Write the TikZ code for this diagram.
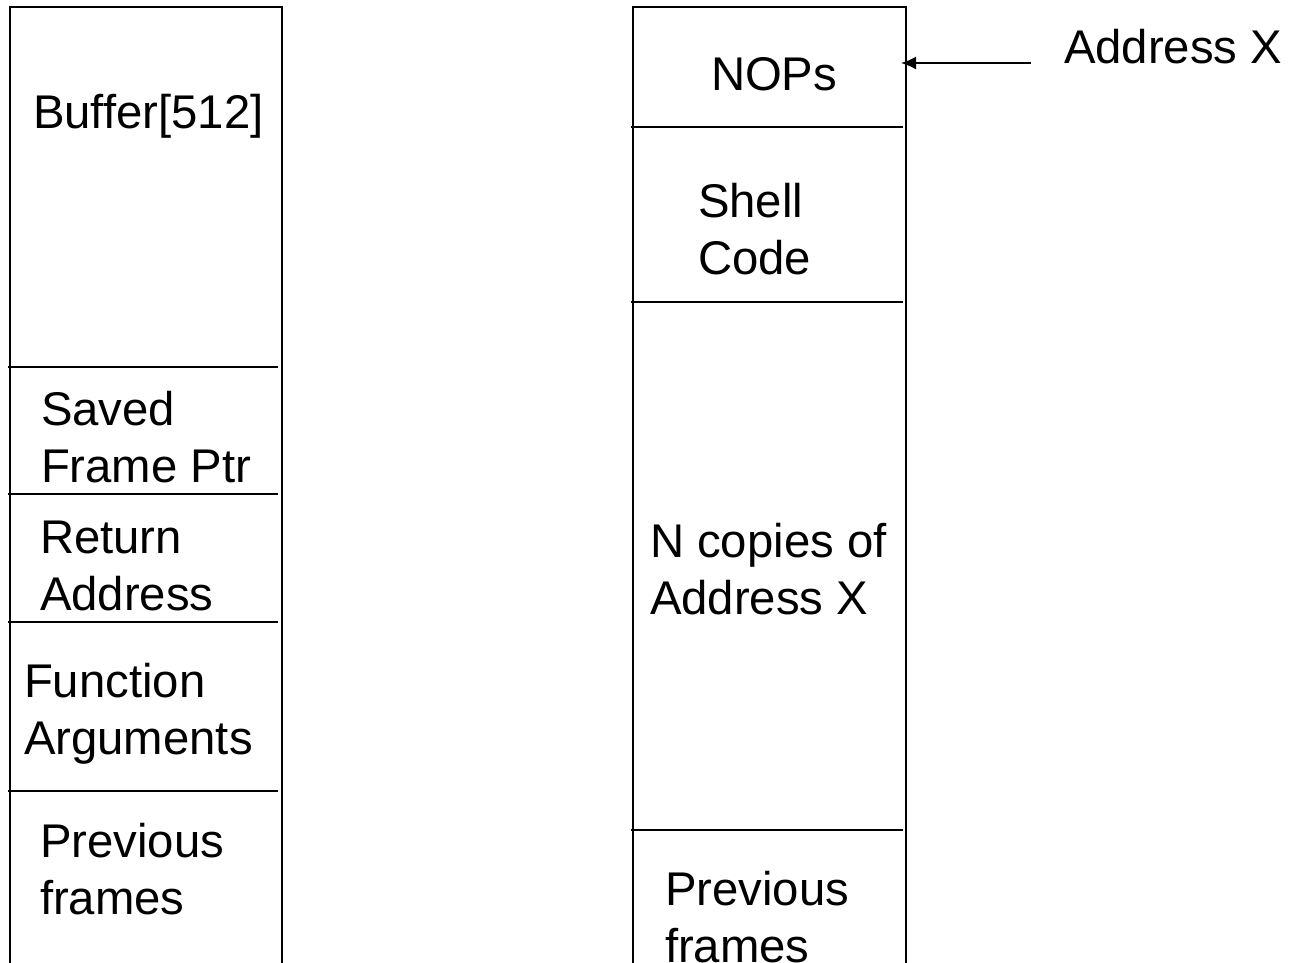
\documentclass[tikz,border=0pt]{standalone}
\usepackage{fontspec}
\setmainfont{Liberation Sans}
\usetikzlibrary{arrows.meta}
\tikzset{
  frame/.style={line width=1.8bp, black},
  divider/.style={line width=1.8bp, black},
  lbl/.style={anchor=base west, inner sep=0pt, outer sep=0pt, font=\fontsize{47.3bp}{57bp}\selectfont},
  ptr/.style={line width=1.8bp, -{Latex[length=15bp,width=13bp]}}
}
\newcommand{\lines}[1]{\begin{tabular}[t]{@{}l@{}}#1\end{tabular}}
\begin{document}
\begin{tikzpicture}[x=1bp,y=-1bp]
\useasboundingbox (0,0) rectangle (1298,963);
% left stack frame
\draw[frame] (10,963) -- (10,7) -- (282,7) -- (282,963);
\draw[divider] (8,367) -- (278,367);
\draw[divider] (8,494) -- (278,494);
\draw[divider] (8,622) -- (278,622);
\draw[divider] (8,791) -- (278,791);
\node[lbl] (buf) at (33,128) {Buffer[512]};
\node[lbl] (sfp) at (41,425) {\lines{Saved\\Frame Ptr}};
\node[lbl] (ret) at (40,553) {\lines{Return\\Address}};
\node[lbl] (args) at (24,697) {\lines{Function\\Arguments}};
\node[lbl] (prevl) at (40,857) {\lines{Previous\\frames}};
% right (attack) stack
\draw[frame] (633,963) -- (633,7) -- (906,7) -- (906,963);
\draw[divider] (631,127) -- (903,127);
\draw[divider] (631,302) -- (903,302);
\draw[divider] (631,830) -- (903,830);
\node[lbl] (nops) at (711,90) {NOPs};
\node[lbl] (shell) at (698,217) {\lines{Shell\\Code}};
\node[lbl] (copies) at (650,557) {\lines{N copies of\\Address X}};
\node[lbl] (prevr) at (665,905) {\lines{Previous\\frames}};
% address pointer
\node[lbl] (addrx) at (1064,63) {Address X};
\coordinate (ptrstart) at (1031,63);
\coordinate (nopsedge) at (901,63);
\draw[ptr] (ptrstart) -- (nopsedge);
\end{tikzpicture}
\end{document}
